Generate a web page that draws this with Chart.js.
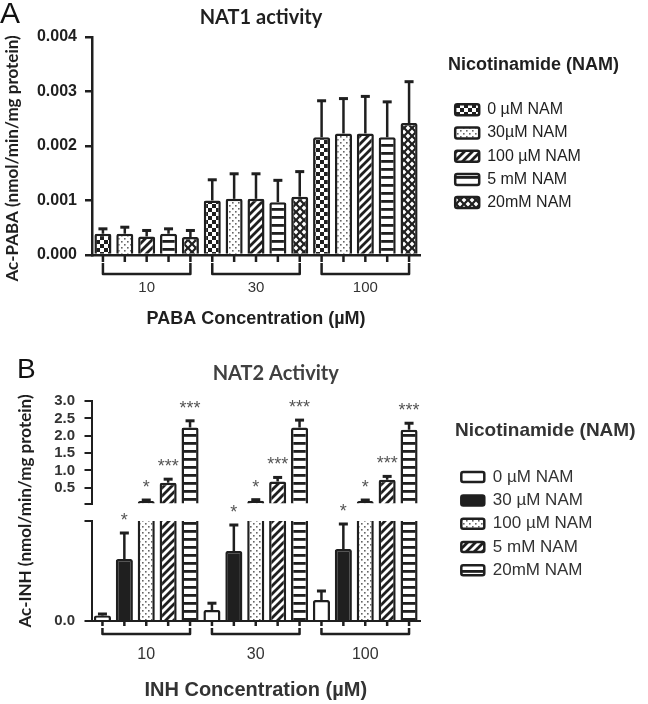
<!DOCTYPE html>
<html>
<head>
<meta charset="utf-8">
<script src="https://cdn.jsdelivr.net/npm/chart.js@4.4.1/dist/chart.umd.min.js"></script>
<style>
  html, body { margin: 0; padding: 0; background: #fff; }
  canvas { display: block; }
</style>
</head>
<body>
<canvas id="nat1" width="648" height="330"></canvas>
<canvas id="nat2" width="648" height="374"></canvas>
<script>
// ---- data ----
const GROUPS = ['10', '30', '100'];

// A: NAT1, Ac-PABA (nmol/min/mg protein), mean and SD per NAM level x PABA group
const NAM_A = ['0 µM NAM', '30µM NAM', '100 µM NAM', '5 mM NAM', '20mM NAM'];
const PABA_MEAN = [
  [0.00039, 0.00100, 0.00216],
  [0.00039, 0.00103, 0.00223],
  [0.00034, 0.00103, 0.00223],
  [0.00039, 0.00097, 0.00216],
  [0.00033, 0.00107, 0.00242],
];
const PABA_SD = [
  [0.00009, 0.00038, 0.00067],
  [0.00012, 0.00046, 0.00064],
  [0.00011, 0.00046, 0.00068],
  [0.00009, 0.00040, 0.00065],
  [0.00012, 0.00046, 0.00076],
];
const PABA_TICKS = [0, 0.001, 0.002, 0.003, 0.004];

// B: NAT2, Ac-INH (nmol/min/mg protein), broken y axis
const NAM_B = ['0 µM NAM', '30 µM NAM', '100 µM NAM', '5 mM NAM', '20mM NAM'];
const INH_MEAN = [
  [0.0027, 0.0055, 0.0105],
  [0.031, 0.035, 0.036],
  [0.12, 0.13, 0.12],
  [0.65, 0.68, 0.73],
  [2.24, 2.24, 2.17],
];
const INH_SD = [
  [0.0008, 0.0034, 0.0045],
  [0.013, 0.013, 0.0125],
  [0.03, 0.03, 0.03],
  [0.10, 0.12, 0.10],
  [0.19, 0.21, 0.19],
];
const INH_SIG = ['', '*', '*', '***', '***'];
const INH_BREAK = 0.05;
const INH_TOP_TICKS = [0.05, 0.5, 1, 1.5, 2, 2.5, 3];
const INH_LOW_TICKS = [0, 0.05];

// ---- styles ----
const INK = '#1f1f1f';
const SANS = '"Liberation Sans", Arial, sans-serif';
const HUMAN = 'Lato, "Open Sans", sans-serif';
Chart.defaults.font.family = SANS;

function makePattern(w, h, paint) {
  const c = document.createElement('canvas');
  c.width = w; c.height = h;
  const g = c.getContext('2d');
  g.fillStyle = '#fff';
  g.fillRect(0, 0, w, h);
  paint(g);
  return g.createPattern(c, 'repeat');
}

const checker = makePattern(8, 8, g => {
  g.fillStyle = INK;
  g.fillRect(0, 0, 4, 4);
  g.fillRect(4, 4, 4, 4);
});
const dots = makePattern(6, 6, g => {
  g.fillStyle = '#666';
  g.fillRect(1, 1, 1.6, 1.6);
  g.fillRect(4, 4, 1.6, 1.6);
});
const hatch = makePattern(8, 8, g => {
  g.strokeStyle = INK;
  g.lineWidth = 2.8;
  g.beginPath();
  for (const o of [-8, 0, 8]) { g.moveTo(o - 1, 9); g.lineTo(o + 9, -1); }
  g.stroke();
});
const ladder = makePattern(8, 8, g => {
  g.fillStyle = INK;
  g.fillRect(0, 0, 8, 2.8);
});
const diamond = makePattern(8, 8, g => {
  g.fillStyle = INK;
  g.fillRect(0, 0, 8, 8);
  g.fillStyle = '#fff';
  for (const [cx, cy] of [[4, 4], [0, 0], [8, 0], [0, 8], [8, 8]]) {
    g.beginPath();
    g.moveTo(cx, cy - 2.4); g.lineTo(cx + 2.4, cy); g.lineTo(cx, cy + 2.4); g.lineTo(cx - 2.4, cy);
    g.closePath();
    g.fill();
  }
});
const FILLS_A = [checker, dots, hatch, ladder, diamond];
const FILLS_B = ['#ffffff', INK, dots, hatch, ladder];

// error bars, bar ticks, brackets, significance stars, panel letter
const figureExtras = {
  id: 'figureExtras',
  afterLayout(chart, args, opts) {
    const t = chart.titleBlock;
    if (t && opts.titleShift) { t.left += opts.titleShift; t.right += opts.titleShift; }
    // let the legend title run past the legend's own fitted width
    const lg = chart.legend;
    if (lg) { lg.right = chart.width; lg.width = lg.right - lg.left; }
  },
  beforeDatasetDraw(chart, { meta }, opts) {
    if (!opts.clipToAxis) return;
    const { ctx, chartArea: a } = chart;
    const ys = meta.yScale;
    const top = ys.top <= a.top + 1 ? ys.top - 20 : ys.top;
    const bottom = ys.bottom >= a.bottom - 1 ? ys.bottom + 3 : ys.bottom;
    ctx.save();
    ctx.beginPath();
    ctx.rect(a.left, top, a.right - a.left + 10, bottom - top);
    ctx.clip();
  },
  afterDatasetDraw(chart, { index, meta }, opts) {
    const ctx = chart.ctx;
    const ds = chart.data.datasets[index];
    const ys = meta.yScale;
    ctx.save();
    ctx.strokeStyle = INK;
    ctx.fillStyle = INK;
    ctx.lineWidth = opts.errWidth;
    meta.data.forEach((bar, i) => {
      const v = ds.data[i] + ds.errors[i];
      if (v <= ys.min) return;
      const top = ys.getPixelForValue(v);
      ctx.beginPath();
      ctx.moveTo(bar.x, bar.y);
      ctx.lineTo(bar.x, top);
      ctx.stroke();
      ctx.fillRect(bar.x - opts.capHalf, top - 1.5, opts.capHalf * 2, 3);
    });
    ctx.restore();
    if (opts.clipToAxis) ctx.restore();
  },
  afterDraw(chart, args, opts) {
    const ctx = chart.ctx;
    const axisY = chart.scales.x.top;
    const n = opts.series;
    ctx.save();
    ctx.strokeStyle = INK;
    ctx.lineWidth = opts.markWidth;
    ctx.lineJoin = 'round';
    for (let s = 0; s < n; s++) {
      chart.getDatasetMeta(s).data.forEach(bar => {
        ctx.beginPath();
        ctx.moveTo(bar.x, axisY);
        ctx.lineTo(bar.x, axisY + opts.tick);
        ctx.stroke();
      });
    }
    const first = chart.getDatasetMeta(0).data;
    const last = chart.getDatasetMeta(n - 1).data;
    first.forEach((b, i) => {
      ctx.beginPath();
      ctx.moveTo(b.x, axisY + opts.bracket[0]);
      ctx.lineTo(b.x, axisY + opts.bracket[1]);
      ctx.lineTo(last[i].x, axisY + opts.bracket[1]);
      ctx.lineTo(last[i].x, axisY + opts.bracket[0]);
      ctx.stroke();
    });
    if (opts.stars) {
      ctx.fillStyle = '#555';
      ctx.font = '18px ' + SANS;
      ctx.textAlign = 'center';
      ctx.textBaseline = 'alphabetic';
      opts.stars.forEach((mark, s) => {
        if (!mark) return;
        const ds = chart.data.datasets[s];
        ds.data.forEach((v, i) => {
          const top = v + ds.errors[i];
          const meta = chart.getDatasetMeta(top > opts.breakAt ? s : s + n);
          ctx.fillText(mark, meta.data[i].x, meta.yScale.getPixelForValue(top) - opts.starGap);
        });
      });
    }
    const L = opts.letter;
    ctx.fillStyle = '#111';
    ctx.font = L.size + 'px ' + SANS;
    ctx.textAlign = 'left';
    ctx.textBaseline = 'alphabetic';
    ctx.fillText(L.text, L.x, L.y);
    ctx.restore();
  }
};

function barSet(label, data, errors, fill, yAxisID, stack) {
  return {
    label, data, errors, yAxisID, stack,
    backgroundColor: fill,
    borderColor: INK,
    borderWidth: 2.5,
    borderRadius: 2,
    categoryPercentage: 1,
    barPercentage: 0.78,
  };
}

const hidden = { ticks: { display: false }, grid: { display: false }, border: { display: false } };

// ---- panel A ----
new Chart(document.getElementById('nat1'), {
  type: 'bar',
  data: {
    labels: GROUPS,
    datasets: NAM_A.map((label, s) => barSet(label, PABA_MEAN[s], PABA_SD[s], FILLS_A[s], 'y')),
  },
  options: {
    responsive: false,
    animation: false,
    devicePixelRatio: 1,
    events: [],
    layout: { padding: { left: 0, top: 0, right: 80, bottom: 0 } },
    scales: {
      x: {
        z: 1,
        afterFit: s => { s.height = 75; },
        grid: { display: false, drawTicks: false },
        border: { display: true, width: 2.5, color: INK },
        ticks: { padding: 24, color: '#333', font: { size: 15 } },
        title: {
          display: true, text: 'PABA Concentration (µM)', color: INK,
          font: { size: 18, weight: 'bold' }, padding: { top: 0, bottom: 0 }
        }
      },
      y: {
        min: 0, max: 0.004,
        afterBuildTicks: s => { s.ticks = PABA_TICKS.map(value => ({ value })); },
        afterFit: s => { s.width = 92; },
        ticks: {
          autoSkip: false, padding: 8, color: INK,
          font: { size: 16, weight: 'bold' },
          callback: v => v.toFixed(3)
        },
        grid: { drawOnChartArea: false, drawTicks: true, tickLength: 7, lineWidth: 2.5, color: INK },
        border: { display: true, width: 2.5, color: INK },
        title: {
          display: true, text: 'Ac-PABA (nmol/min/mg protein)' + '\u00a0'.repeat(6), color: INK,
          font: { family: HUMAN, size: 17, weight: 'bold' }, padding: { top: 2, bottom: 0 }
        }
      },
      gap: { position: 'right', ...hidden, afterFit: s => { s.width = 28; } }
    },
    plugins: {
      tooltip: { enabled: false },
      title: {
        display: true, text: 'NAT1 activity', fullSize: false, color: INK,
        font: { family: HUMAN, size: 20, weight: 'bold' }, padding: { top: 6, bottom: 7 }
      },
      legend: {
        position: 'right', align: 'start', maxWidth: 120,
        title: {
          display: true, text: 'Nicotinamide (NAM)', position: 'start', color: INK,
          font: { size: 18, weight: 'bold' }, padding: { top: 56, bottom: 17 }
        },
        labels: {
          boxWidth: 24, boxHeight: 11, padding: 7.2, color: INK,
          font: { size: 16 }, useBorderRadius: true, borderRadius: 2
        }
      },
      figureExtras: {
        titleShift: 5, clipToAxis: false, errWidth: 2.5, capHalf: 4.5,
        series: NAM_A.length, tick: 7, bracket: [8, 19], markWidth: 2.5,
        letter: { text: 'A', x: 0, y: 23, size: 30 }
      }
    }
  },
  plugins: [figureExtras]
});

// ---- panel B ----
const upperB = NAM_B.map((label, s) => barSet(label, INH_MEAN[s], INH_SD[s], FILLS_B[s], 'yTop', 's' + s));
const lowerB = NAM_B.map((label, s) => barSet(label, INH_MEAN[s], INH_SD[s], FILLS_B[s], 'yBot', 's' + s));

const segTicks = { autoSkip: false, padding: 9.5, color: '#333', font: { size: 15, weight: 'bold' } };
const segGrid = { drawOnChartArea: false, drawTicks: true, tickLength: 7, lineWidth: 2, color: INK };
const segBorder = { display: true, width: 2, color: INK };

new Chart(document.getElementById('nat2'), {
  type: 'bar',
  data: { labels: GROUPS, datasets: upperB.concat(lowerB) },
  options: {
    responsive: false,
    animation: false,
    devicePixelRatio: 1,
    events: [],
    layout: { padding: { left: 0, top: 0, right: 73, bottom: 0 } },
    scales: {
      x: {
        z: 1,
        afterFit: s => { s.height = 83; },
        grid: { display: false, drawTicks: false },
        border: { display: true, width: 2, color: INK },
        ticks: { padding: 24, color: '#333', font: { size: 16 } },
        title: {
          display: true, text: 'INH Concentration (µM)', color: '#333',
          font: { size: 20, weight: 'bold' }, padding: { top: 0, bottom: 2 }
        }
      },
      yT: {
        position: 'left', weight: 10, ...hidden,
        afterFit: s => { s.width = 40; },
        title: {
          display: true, text: 'Ac-INH (nmol/min/mg protein)', color: INK,
          font: { family: HUMAN, size: 17, weight: 'bold' }, padding: { top: 15, bottom: 0 }
        }
      },
      yBot: {
        position: 'left', stack: 'inh', stackWeight: 100, weight: 1, stacked: false,
        min: 0, max: INH_BREAK,
        afterBuildTicks: s => { s.ticks = INH_LOW_TICKS.map(value => ({ value })); },
        afterFit: s => { s.width = 51.5; },
        ticks: { ...segTicks, callback: v => (v === 0 ? '0.0' : '') },
        grid: segGrid, border: segBorder
      },
      yGap: {
        position: 'left', stack: 'inh', stackWeight: 17.5, weight: 2, ...hidden,
        afterFit: s => { s.width = 51.5; }
      },
      yTop: {
        position: 'left', stack: 'inh', stackWeight: 102.5, weight: 3, stacked: false,
        min: INH_BREAK, max: 3,
        afterBuildTicks: s => { s.ticks = INH_TOP_TICKS.map(value => ({ value })); },
        afterFit: s => { s.width = 51.5; },
        ticks: { ...segTicks, callback: v => (v === INH_BREAK ? '' : v.toFixed(1)) },
        grid: segGrid, border: segBorder
      },
      gap: { position: 'right', ...hidden, afterFit: s => { s.width = 35; } }
    },
    plugins: {
      tooltip: { enabled: false },
      title: {
        display: true, text: 'NAT2 Activity', fullSize: false, color: '#404040',
        font: { family: HUMAN, size: 20, weight: 'bold' }, padding: { top: 31.5, bottom: 15.5 }
      },
      legend: {
        position: 'right', align: 'start', maxWidth: 120,
        title: {
          display: true, text: 'Nicotinamide (NAM)', position: 'start', color: '#333',
          font: { size: 19, weight: 'bold' }, padding: { top: 91, bottom: 18.5 }
        },
        labels: {
          boxWidth: 23, boxHeight: 10, padding: 6.3, color: '#333',
          font: { size: 17 }, useBorderRadius: true, borderRadius: 2,
          filter: item => item.datasetIndex < NAM_B.length
        }
      },
      figureExtras: {
        titleShift: 20, clipToAxis: true, errWidth: 2.5, capHalf: 4.5,
        series: NAM_B.length, tick: 5, bracket: [7, 13], markWidth: 2.5,
        stars: INH_SIG, breakAt: INH_BREAK, starGap: 7,
        letter: { text: 'B', x: 17, y: 48, size: 28 }
      }
    }
  },
  plugins: [figureExtras]
});
</script>
</body>
</html>
